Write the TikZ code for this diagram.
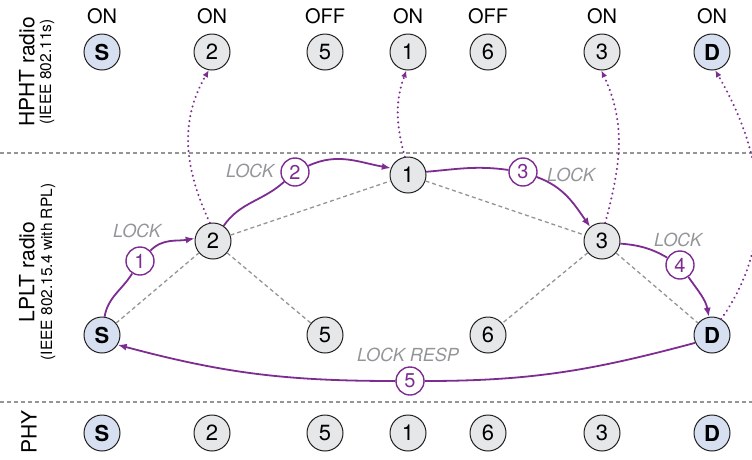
\documentclass[tikz,border=0pt]{standalone}
\usepackage{fontspec}
\setmainfont{TeX Gyre Heros}
\usetikzlibrary{arrows.meta}
\definecolor{pur}{RGB}{125,45,145}
\definecolor{grayline}{RGB}{147,149,152}
\definecolor{nodefill}{RGB}{230,231,232}
\definecolor{endfill}{RGB}{214,224,241}
\definecolor{outl}{RGB}{35,31,32}
\begin{document}
\begin{tikzpicture}[x=1pt,y=1pt,
  nd/.style={circle,draw=outl,line width=1pt,fill=nodefill,minimum size=36pt,inner sep=0pt,font=\fontsize{22}{22}\selectfont},
  ep/.style={nd,fill=endfill,font=\fontsize{22}{22}\selectfont\bfseries},
  stepnum/.style={circle,draw=pur,line width=1.4pt,fill=white,text=pur,minimum size=28pt,inner sep=0pt,font=\fontsize{20}{20}\selectfont},
  lock/.style={text=grayline,inner sep=0pt,font=\fontsize{18}{18}\selectfont\itshape},
  state/.style={inner sep=0pt,font=\fontsize{20}{20}\selectfont},
  msg/.style={draw=pur,line width=1.8pt,-{Latex[length=9pt,width=7pt]}},
  msgline/.style={draw=pur,line width=1.8pt},
  mesh/.style={draw=grayline,line width=1.3pt,dash pattern=on 4pt off 3pt},
  sep/.style={draw=grayline,line width=1.2pt,dash pattern=on 4pt off 3pt},
  wake/.style={draw=pur,line width=2.3pt,line cap=round,dash pattern=on 0.01pt off 5pt,-{Latex[length=7pt,width=6pt]}},
  layer/.style={rotate=90,inner sep=0pt,font=\fontsize{21}{21}\selectfont},
  sublayer/.style={rotate=90,inner sep=0pt,font=\fontsize{15.5}{15.5}\selectfont},
]
\useasboundingbox (0,0) rectangle (752,-459);

% layer labels
\node[layer] (lh) at (27,-72) {HPHT radio};
\node[sublayer] (lhs) at (47,-72) {(IEEE 802.11s)};
\node[layer] (ll) at (27,-272) {LPLT radio};
\node[sublayer] (lls) at (48,-272) {(IEEE 802.15.4 with RPL)};
\node[layer] (lp) at (29,-432) {PHY};

% separators
\draw[sep] (0,-153) -- (752,-153);
\draw[sep] (0,-402) -- (752,-402);

% top row (HPHT)
\node[ep] (tS) at (102,-52) {S};
\node[nd] (t2) at (212,-52) {2};
\node[nd] (t5) at (325,-52) {5};
\node[nd] (t1) at (408,-52) {1};
\node[nd] (t6) at (488,-52) {6};
\node[nd] (t3) at (602,-52) {3};
\node[ep] (tD) at (712,-52) {D};
\node[state] (oS) at (102,-16) {ON};
\node[state] (o2) at (212,-16) {ON};
\node[state] (o5) at (325,-16) {OFF};
\node[state] (o1) at (408,-16) {ON};
\node[state] (o6) at (488,-16) {OFF};
\node[state] (o3) at (602,-16) {ON};
\node[state] (oD) at (712,-16) {ON};

% middle row (LPLT)
\node[ep] (mS) at (102,-335) {S};
\node[nd] (m2) at (213,-241) {2};
\node[nd] (m5) at (325,-335) {5};
\node[nd] (m1) at (408,-175) {1};
\node[nd] (m6) at (488,-335) {6};
\node[nd] (m3) at (602,-241) {3};
\node[ep] (mD) at (712,-335) {D};

% bottom row (PHY)
\node[ep] (bS) at (102,-433) {S};
\node[nd] (b2) at (212,-433) {2};
\node[nd] (b5) at (325,-433) {5};
\node[nd] (b1) at (408,-433) {1};
\node[nd] (b6) at (488,-433) {6};
\node[nd] (b3) at (602,-433) {3};
\node[ep] (bD) at (712,-433) {D};

% mesh links
\draw[mesh] (mS) -- (m2);
\draw[mesh] (m2) -- (m1);
\draw[mesh] (m2) -- (m5);
\draw[mesh] (m1) -- (m3);
\draw[mesh] (m3) -- (m6);
\draw[mesh] (m3) -- (mD);

% step markers
\node[stepnum] (s1) at (140,-261) {1};
\node[stepnum] (s2) at (295,-172) {2};
\node[stepnum] (s3) at (523,-172) {3};
\node[stepnum] (s4) at (680,-265) {4};
\node[stepnum] (s5) at (410,-381) {5};

% message labels
\node[lock] (k1) at (137,-231) {LOCK};
\node[lock] (k2) at (250,-171) {LOCK};
\node[lock] (k3) at (571,-175) {LOCK};
\node[lock] (k4) at (678,-240) {LOCK};
\node[lock] (k5) at (408,-355) {LOCK RESP};

% messages
\draw[msgline] (mS.82) to[out=80,in=238] (s1);
\draw[msg] (s1) to[out=45,in=190] (m2.172);
\draw[msgline] (m2.55) to[out=55,in=222] (s2);
\draw[msg] (s2) to[out=25,in=170] (m1.158);
\draw[msgline] (m1.10) to[out=5,in=172] (s3);
\draw[msg] (s3) to[out=-20,in=125] (m3.130);
\draw[msgline] (m3.-8) to[out=-5,in=150] (s4);
\draw[msg] (s4) to[out=-55,in=100] (mD.100);
\draw[msgline] (mD.205) to[out=195,in=0] (s5);
\draw[msg] (s5) to[out=180,in=-15] (mS.-32);

% radio wake-ups
\draw[wake] (m2.100) to[out=115,in=240] (t2.-100);
\draw[wake] (m1.100) to[out=105,in=250] (t1.-95);
\draw[wake] (m3.80) to[out=75,in=-65] (t3.-92);
\draw[wake] (mD.60) to[out=55,in=-60] (tD.-80);
\end{tikzpicture}
\end{document}
